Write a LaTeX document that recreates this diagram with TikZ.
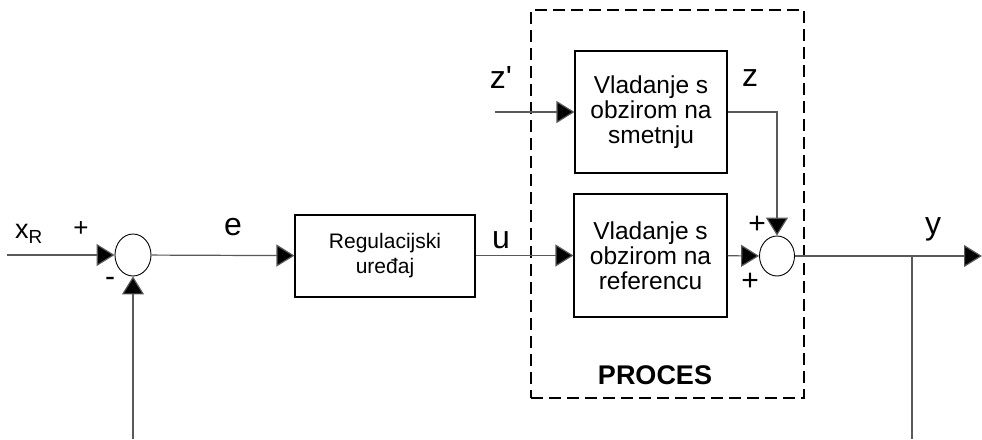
\documentclass[tikz,border=0pt]{standalone}
\usepackage{fontspec}
\setmainfont{Liberation Sans}
\usetikzlibrary{arrows.meta,positioning,shapes.geometric}

\begin{document}
\begin{tikzpicture}[
    x=1pt, y=-1pt,
    block/.style={rectangle,draw,line width=1.1pt,inner sep=0pt,align=center,font=\fontsize{24.5}{25}\selectfont},
    summer/.style={ellipse,draw,line width=0.9pt,inner sep=0pt},
    sig/.style={draw=black!65,line width=1.2pt},
    arr/.style={sig,-{Triangle[length=18pt,width=22pt,fill=black]}},
    lbl/.style={inner sep=0pt,font=\fontsize{32}{34}\selectfont},
    sign/.style={inner sep=0pt,font=\fontsize{30}{32}\selectfont},
    procbox/.style={rectangle,draw,dashed,dash pattern=on 12pt off 6pt,line width=1.2pt}
]
    \useasboundingbox (0,0) rectangle (982,439);

    % Process (dashed frame)
    \node[procbox,minimum width=273pt,minimum height=388pt] (proc) at (667.5,204) {};
    \node[font=\bfseries\fontsize{27}{29}\selectfont] (procname) at (655,375) {PROCES};

    % Blocks and summing points
    \node[summer,minimum width=36pt,minimum height=42pt] (sumA) at (133,255) {};
    \node[block,minimum width=180pt,minimum height=82pt,font=\fontsize{21}{25}\selectfont] (reg) at (385,256) {Regulacijski\\uređaj};
    \node[block,minimum width=152pt,minimum height=122pt] (dist) at (651,112) {Vladanje s\\obzirom na\\smetnju};
    \node[block,minimum width=153pt,minimum height=123pt] (ref) at (650.5,255.5) {Vladanje s\\obzirom na\\referencu};
    \node[summer,minimum width=35pt,minimum height=40pt] (sumB) at (777,256) {};

    % Free ends
    \coordinate (xin) at (7,255);
    \coordinate (zin) at (495,112);
    \coordinate (yout) at (982,256);
    \coordinate (branch) at (912,256);
    \coordinate (fbA) at (133,439);
    \coordinate (fbB) at (912,439);

    % Signals
    \draw[arr] (xin) -- (sumA);
    \draw[arr] (fbA) -- (sumA);
    \draw[arr] (sumA) -- (reg);
    \draw[arr] (reg.east |- ref.west) -- (ref);
    \draw[arr] (zin) -- (dist);
    \draw[arr] (dist.east) -| (sumB.north);
    \draw[arr] (ref) -- (sumB);
    \draw[arr] (sumB) -- (yout);
    \draw[sig] (branch) -- (fbB);

    % Labels
    \node[inner sep=0pt,font=\fontsize{27}{29}\selectfont] (xR) at (29,234) {x\textsubscript{R}};
    \node[sign,font=\fontsize{26}{28}\selectfont] (pA) at (81,229) {+};
    \node[sign] (mA) at (110,282) {-};
    \node[lbl] (e) at (233,227) {e};
    \node[lbl] (u) at (501,240) {u};
    \node[lbl] (zp) at (501,77) {z\textquotesingle};
    \node[lbl] (z) at (750,78) {z};
    \node[sign] (pB) at (757,225) {+};
    \node[sign] (pC) at (750,282) {+};
    \node[lbl] (y) at (933,229) {y};
\end{tikzpicture}
\end{document}
